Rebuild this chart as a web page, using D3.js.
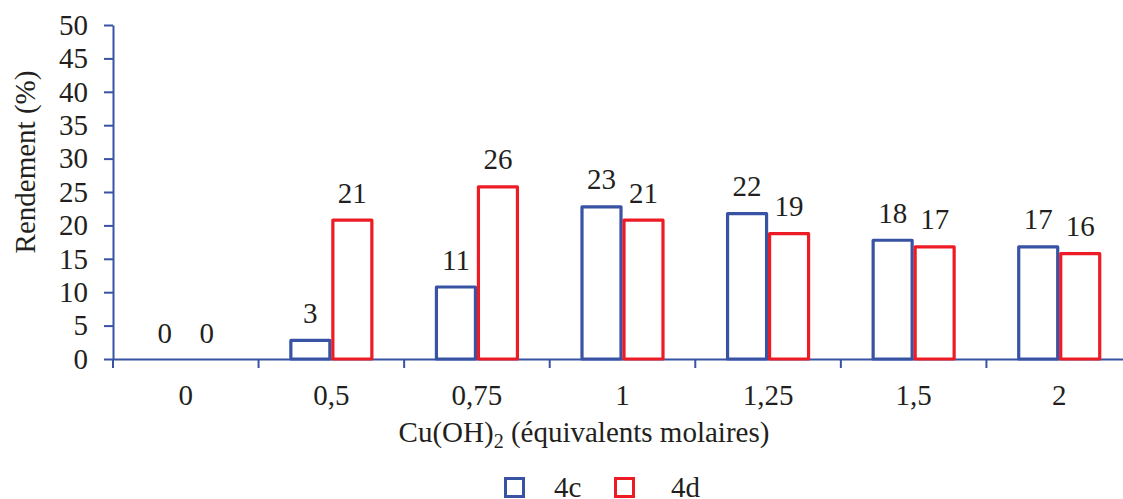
<!DOCTYPE html>
<html><head><meta charset="utf-8">
<script src="https://cdn.jsdelivr.net/npm/d3@7"></script>
</head>
<body style="margin:0;background:#fff"><svg id="chart" width="1123" height="499"></svg>
<script>
const categories = ["0","0,5","0,75","1","1,25","1,5","2"];
const series4c = [0,3,11,23,22,18,17];
const series4d = [0,21,26,21,19,17,16];
const seriesNames = ["4c","4d"];
const yTicks = [0,5,10,15,20,25,30,35,40,45,50];

const FONT = "Liberation Serif";
const FS = 29;
const TXT = "#231f20";
const colors = {"4c":"#3953a4","4d":"#ed1c24"};
const svg = d3.select("#chart");
const x0 = 113, x1 = 1132, yTop = 25, yBot = 359;

const x = d3.scaleBand().domain(categories).range([x0,x1]).paddingInner(0).paddingOuter(0);
const xs = d3.scaleBand().domain(seriesNames).range([0,84]);
const y = d3.scaleLinear().domain([0,50]).range([yBot,yTop]);

function styleText(sel, size){
  return sel.attr("font-family",FONT).style("font-family",FONT)
    .style("font-size",size+"px").attr("font-size",size).style("fill",TXT);
}

const data = categories.map((c,i)=>({cat:c, vals:[{s:"4c",v:series4c[i]},{s:"4d",v:series4d[i]}]}));

// x axis line + boundary ticks
const xAxis = d3.axisBottom(x).tickSize(0).tickSizeOuter(0).tickPadding(25);
const xa = svg.append("g").attr("transform",`translate(0,${yBot})`).call(xAxis);
xa.attr("font-family",FONT).attr("font-size",FS);
xa.select(".domain").attr("stroke","#3953a4").attr("stroke-width",2);
styleText(xa.selectAll(".tick text"), FS);
const bounds = categories.map(c=>x(c)).concat([x1]);
xa.selectAll(".bt").data(bounds).enter().append("line")
  .attr("x1",d=>d).attr("x2",d=>d).attr("y1",0).attr("y2",9)
  .attr("stroke","#3953a4").attr("stroke-width",2);

// bars
const g = svg.append("g").attr("font-family",FONT).attr("font-size",FS);
data.forEach(d=>{
  const cx = x(d.cat) + x.bandwidth()/2 - 42;
  d.vals.forEach(p=>{
    if(p.v>0){
      g.append("rect")
        .attr("x", cx + xs(p.s) + 1.5).attr("y", y(p.v) + 1.5)
        .attr("width", xs.bandwidth() - 3).attr("height", y(0)-y(p.v) - 1.5)
        .attr("fill","none").attr("stroke",colors[p.s]).attr("stroke-width",3.2)
        .attr("stroke-linejoin","round");
    }
    styleText(g.append("text")
      .attr("x", cx + xs(p.s) + xs.bandwidth()/2)
      .attr("y", y(p.v) - 16)
      .attr("text-anchor","middle"), FS)
      .text(p.v);
  });
});

// y axis
const yAxis = d3.axisLeft(y).tickValues(yTicks).tickSize(9).tickSizeOuter(0).tickPadding(16);
const ya = svg.append("g").attr("transform",`translate(${x0},0)`).call(yAxis);
ya.attr("font-family",FONT).attr("font-size",FS);
ya.select(".domain").attr("stroke","#3953a4").attr("stroke-width",2);
ya.selectAll(".tick line").attr("stroke","#3953a4").attr("stroke-width",2);
styleText(ya.selectAll(".tick text"), FS);

// axis titles
styleText(svg.append("text").attr("transform","translate(35,162) rotate(-90)")
  .attr("text-anchor","middle"), FS).text("Rendement (%)");
const xt = styleText(svg.append("text").attr("x",584).attr("y",442).attr("text-anchor","middle"), FS);
xt.append("tspan").text("Cu(OH)");
xt.append("tspan").style("font-size","20px").attr("dy",6).text("2");
xt.append("tspan").attr("dy",-6).text(" (équivalents molaires)");

// legend
const leg = [{s:"4c",x:505.5,tx:554},{s:"4d",x:615.5,tx:671}];
leg.forEach(l=>{
  svg.append("rect").attr("x",l.x).attr("y",478.5).attr("width",18).attr("height",18)
    .attr("fill","none").attr("stroke",colors[l.s]).attr("stroke-width",3);
  styleText(svg.append("text").attr("x",l.tx).attr("y",497), FS).text(l.s);
});
</script></body></html>
